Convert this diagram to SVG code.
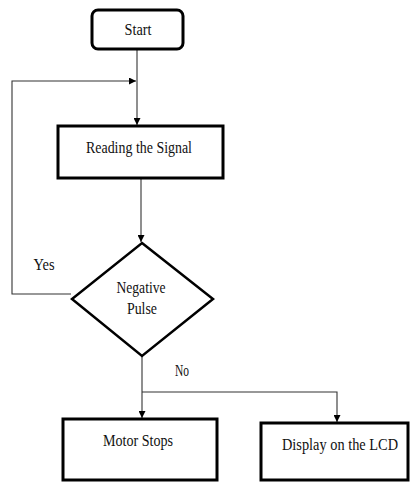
<svg xmlns="http://www.w3.org/2000/svg" width="411" height="482" viewBox="0 0 411 482">
<style>
.box{fill:#fff;stroke:#000;stroke-width:3}
.dia{fill:#fff;stroke:#000;stroke-width:2.5}
.ln{fill:none;stroke:#333;stroke-width:1.1}
text{font-family:"Liberation Serif","Times New Roman",serif;font-size:17px;fill:#111;text-anchor:middle}
</style>
<defs>
<marker id="ah" viewBox="0 0 10 10" refX="10" refY="5" markerWidth="7" markerHeight="7" markerUnits="userSpaceOnUse" orient="auto">
<path d="M0,0 L10,5 L0,10 z" fill="#000"/>
</marker>
</defs>
<rect width="411" height="482" fill="#fff"/>
<g id="connectors">
<line class="ln" x1="137" y1="49" x2="137" y2="125" marker-end="url(#ah)"/>
<polyline class="ln" points="71,294 12,294 12,81 136,81" marker-end="url(#ah)"/>
<line class="ln" x1="141" y1="178" x2="141" y2="242" marker-end="url(#ah)"/>
<line class="ln" x1="142" y1="356" x2="142" y2="418" marker-end="url(#ah)"/>
<polyline class="ln" points="142,392 337,392 337,422" marker-end="url(#ah)"/>
<text x="44" y="270" textLength="21" lengthAdjust="spacingAndGlyphs">Yes</text>
<text x="182" y="376" textLength="14" lengthAdjust="spacingAndGlyphs">No</text>
</g>
<g id="start">
<rect class="box" x="92" y="10" width="91" height="39" rx="6"/>
<text x="138" y="35" textLength="27" lengthAdjust="spacingAndGlyphs">Start</text>
</g>
<g id="reading">
<rect class="box" x="58" y="126" width="165" height="52"/>
<text x="139" y="153" textLength="106" lengthAdjust="spacingAndGlyphs">Reading the Signal</text>
</g>
<g id="decision">
<polygon class="dia" points="142,243 213,299 142,356 72,299"/>
<text x="141" y="293" textLength="49" lengthAdjust="spacingAndGlyphs">Negative</text>
<text x="142" y="314" textLength="30" lengthAdjust="spacingAndGlyphs">Pulse</text>
</g>
<g id="motor">
<rect class="box" x="63" y="419" width="154" height="61"/>
<text x="138" y="446" textLength="70" lengthAdjust="spacingAndGlyphs">Motor Stops</text>
</g>
<g id="display">
<rect class="box" x="261" y="423" width="147" height="57"/>
<text x="340" y="450" textLength="116" lengthAdjust="spacingAndGlyphs">Display on the LCD</text>
</g>
</svg>
